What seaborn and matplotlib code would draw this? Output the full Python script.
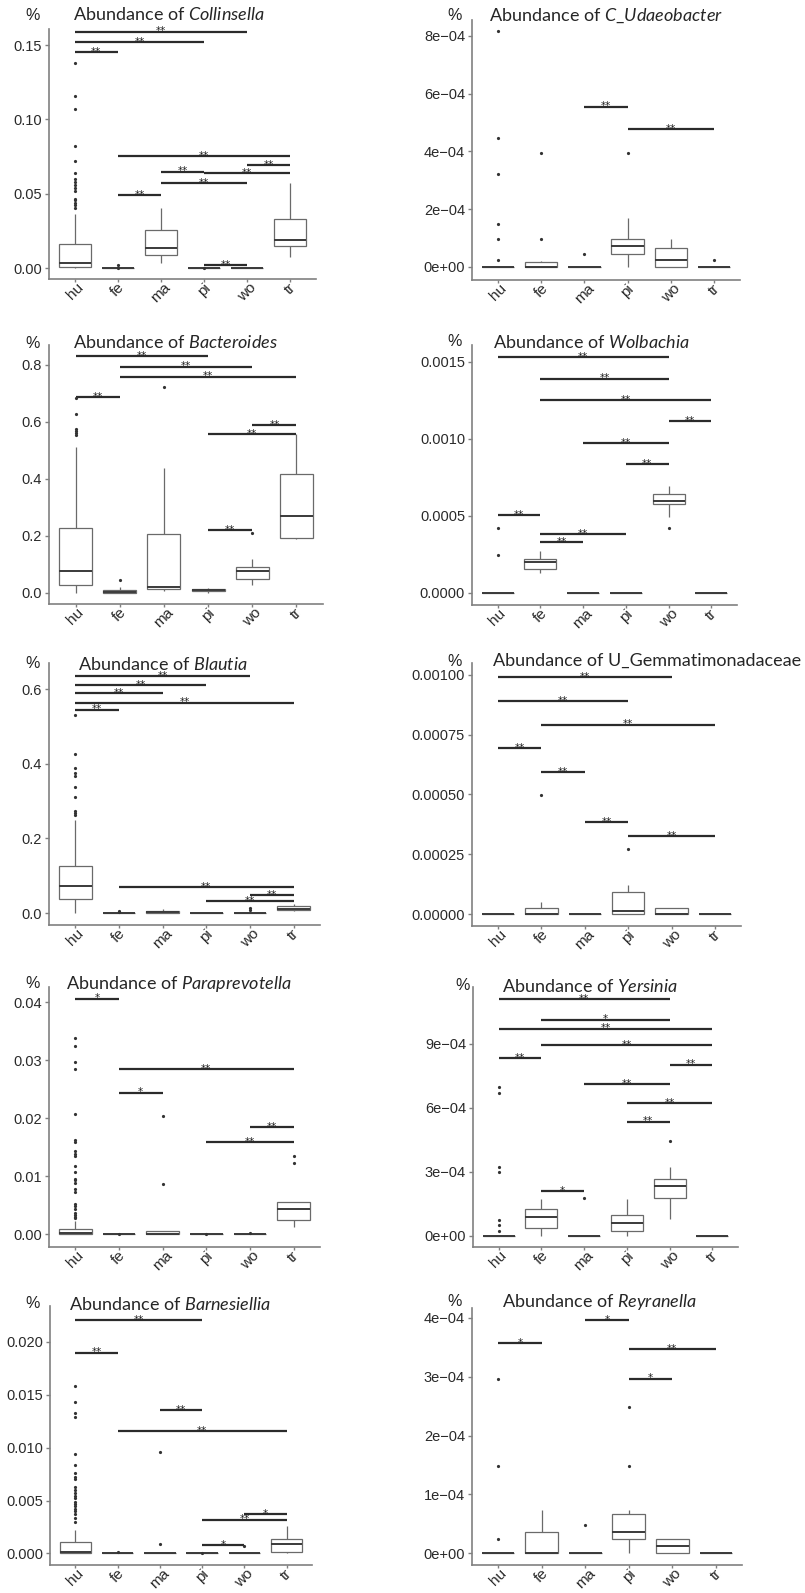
import numpy as np
import pandas as pd
import seaborn as sns
import matplotlib.pyplot as plt

sns.set_style("white")
plt.rcParams["font.family"] = ["Liberation Sans", "DejaVu Sans"]
plt.rcParams["mathtext.fontset"] = "custom"
plt.rcParams["mathtext.rm"] = "Lato"
plt.rcParams["mathtext.it"] = "Lato:italic"

groups = ["hu", "fe", "ma", "pi", "wo", "tr"]

# box summaries: [low whisker, Q1, median, Q3, high whisker]
collinsella_box = [[0.0, 0.0004, 0.0034, 0.0159, 0.0366], [0, 0, 0, 0, 0],
                   [0.0036, 0.0090, 0.0132, 0.0254, 0.0406], [0, 0, 0, 0, 0],
                   [0, 0, 0, 0.0003, 0.0003], [0.0074, 0.0146, 0.0186, 0.0332, 0.0573]]
collinsella_out = [[0.138, 0.1157, 0.1073, 0.0822, 0.0721, 0.0636, 0.0602, 0.058, 0.0561,
                    0.0539, 0.0519, 0.0467, 0.0456, 0.0438, 0.0422, 0.0406],
                   [0.0018, 0.0], [], [0.0], [], []]
collinsella_sig = [("hu", "wo", 0.159, "**"), ("hu", "pi", 0.152, "**"), ("hu", "fe", 0.1453, "**"),
                   ("fe", "tr", 0.0752, "**"), ("wo", "tr", 0.0692, "**"), ("ma", "pi", 0.0649, "**"),
                   ("pi", "tr", 0.0636, "**"), ("ma", "wo", 0.0573, "**"), ("fe", "ma", 0.049, "**"),
                   ("pi", "wo", 0.0022, "**")]

udaeo_box = [[0, 0, 0, 0, 0], [0, 0, 0, 1.6e-5, 2.1e-5], [0, 0, 0, 0, 0],
             [0, 4.6e-5, 7.2e-5, 9.7e-5, 1.71e-4], [0, 0, 2.3e-5, 6.6e-5, 9.7e-5], [0, 0, 0, 0, 0]]
udaeo_out = [[8.18e-4, 4.45e-4, 3.21e-4, 1.48e-4, 9.8e-5, 2.3e-5], [3.95e-4, 9.8e-5], [4.6e-5],
             [3.95e-4], [], [2.3e-5]]
udaeo_sig = [("ma", "pi", 5.55e-4, "**"), ("pi", "tr", 4.76e-4, "**")]

bacteroides_box = [[0.0, 0.029, 0.076, 0.228, 0.511], [0, 0, 0.0035, 0.0094, 0.021],
                   [0.007, 0.0152, 0.021, 0.206, 0.439], [0, 0.006, 0.0094, 0.014, 0.0187],
                   [0.029, 0.0504, 0.077, 0.0914, 0.121], [0.189, 0.194, 0.269, 0.419, 0.557]]
bacteroides_out = [[0.683, 0.628, 0.574, 0.568, 0.560, 0.554], [0.0445], [0.724], [], [0.211], []]
bacteroides_sig = [("hu", "pi", 0.832, "**"), ("fe", "wo", 0.794, "**"), ("fe", "tr", 0.759, "**"),
                   ("hu", "fe", 0.686, "**"), ("wo", "tr", 0.589, "**"), ("pi", "tr", 0.557, "**"),
                   ("pi", "wo", 0.220, "**")]

wolbachia_box = [[0, 0, 0, 0, 0], [1.29e-4, 1.55e-4, 1.99e-4, 2.2e-4, 2.74e-4], [0, 0, 0, 0, 0],
                 [0, 0, 0, 0, 0], [4.96e-4, 5.76e-4, 5.98e-4, 6.41e-4, 6.95e-4], [0, 0, 0, 0, 0]]
wolbachia_out = [[4.21e-4, 2.48e-4], [], [], [], [4.21e-4], []]
wolbachia_sig = [("hu", "wo", 1.532e-3, "**"), ("fe", "wo", 1.392e-3, "**"), ("fe", "tr", 1.252e-3, "**"),
                 ("wo", "tr", 1.116e-3, "**"), ("ma", "wo", 9.75e-4, "**"), ("pi", "wo", 8.35e-4, "**"),
                 ("hu", "fe", 5.07e-4, "**"), ("fe", "pi", 3.84e-4, "**"), ("fe", "ma", 3.28e-4, "**")]

blautia_box = [[0.0, 0.0375, 0.0732, 0.127, 0.25], [0, 0, 0, 0.0005, 0.001],
               [0, 0, 0.002, 0.0054, 0.0098], [0, 0, 0, 0, 0], [0, 0, 0, 0, 0],
               [0.0045, 0.007, 0.0116, 0.018, 0.025]]
blautia_out = [[0.531, 0.427, 0.390, 0.375, 0.366, 0.339, 0.311, 0.274, 0.268, 0.262],
               [0.006, 0.003], [], [], [0.0134, 0.007], []]
blautia_sig = [("hu", "wo", 0.634, "**"), ("hu", "pi", 0.611, "**"), ("hu", "ma", 0.589, "**"),
               ("hu", "tr", 0.564, "**"), ("hu", "fe", 0.545, "**"), ("fe", "tr", 0.0696, "**"),
               ("wo", "tr", 0.0473, "**"), ("pi", "tr", 0.0313, "**")]

gemma_box = [[0, 0, 0, 0, 0], [0, 0, 0, 2.5e-5, 4.9e-5], [0, 0, 0, 0, 0],
             [0, 0, 1.3e-5, 9.1e-5, 1.21e-4], [0, 0, 0, 2.5e-5, 2.5e-5], [0, 0, 0, 0, 0]]
gemma_out = [[], [4.98e-4], [], [2.71e-4], [], []]
gemma_sig = [("hu", "wo", 9.90e-4, "**"), ("hu", "pi", 8.91e-4, "**"), ("fe", "tr", 7.92e-4, "**"),
             ("hu", "fe", 6.93e-4, "**"), ("fe", "ma", 5.94e-4, "**"), ("ma", "pi", 3.84e-4, "**"),
             ("pi", "tr", 3.26e-4, "**")]

parapre_box = [[0, 0, 0.0002, 0.00097, 0.00235], [0, 0, 0, 0, 0], [0, 0, 0.0001, 0.00063, 0.00063],
               [0, 0, 0, 0, 0], [0, 0, 0, 0, 0], [0.0013, 0.00246, 0.00436, 0.0055, 0.0055]]
parapre_out = [[0.0338, 0.0324, 0.0297, 0.0284, 0.0208, 0.0162, 0.0159, 0.0143, 0.0138, 0.0134,
                0.0117, 0.0108, 0.0096, 0.0093, 0.0089, 0.0078, 0.0072, 0.0052, 0.0048, 0.0043,
                0.0036, 0.0033, 0.0030, 0.0028],
               [0.0001], [0.0204, 0.0086], [0.0001], [0.0002], [0.0134, 0.0123]]
parapre_sig = [("hu", "fe", 0.0406, "*"), ("fe", "tr", 0.0285, "**"), ("fe", "ma", 0.0244, "*"),
               ("wo", "tr", 0.0185, "**"), ("pi", "tr", 0.0159, "**")]

yersinia_box = [[0, 0, 0, 0, 0], [0, 3.8e-5, 8.9e-5, 1.25e-4, 1.72e-4], [0, 0, 0, 0, 0],
                [0, 2.4e-5, 6.1e-5, 1.0e-4, 1.72e-4], [7.7e-5, 1.80e-4, 2.35e-4, 2.67e-4, 3.21e-4],
                [0, 0, 0, 0, 0]]
yersinia_out = [[6.96e-4, 6.70e-4, 3.25e-4, 2.98e-4, 7.4e-5, 5.0e-5, 2.2e-5], [], [1.76e-4], [],
                [4.45e-4], []]
yersinia_sig = [("hu", "wo", 1.112e-3, "**"), ("fe", "wo", 1.014e-3, "*"), ("hu", "tr", 9.72e-4, "**"),
                ("fe", "tr", 8.94e-4, "**"), ("hu", "fe", 8.34e-4, "**"), ("wo", "tr", 8.03e-4, "**"),
                ("ma", "wo", 7.13e-4, "**"), ("pi", "tr", 6.24e-4, "**"), ("pi", "wo", 5.36e-4, "**"),
                ("fe", "ma", 2.10e-4, "*")]

barnes_box = [[0, 0, 0.0001, 0.0011, 0.00225], [0, 0, 0, 0, 0], [0, 0, 0, 0, 0], [0, 0, 0, 0, 0],
              [0, 0, 0, 0, 0], [0, 0.000125, 0.00084, 0.00134, 0.0026]]
barnes_out = [[0.0158, 0.0143, 0.0133, 0.0129, 0.0094, 0.0084, 0.0076, 0.0072, 0.0070, 0.0063,
               0.0060, 0.0057, 0.0054, 0.0052, 0.0049, 0.0047, 0.0045, 0.0042, 0.0040, 0.0037,
               0.0033, 0.0030],
              [0.0001], [0.0096, 0.00084], [0.0], [0.0007], []]
barnes_sig = [("hu", "pi", 0.0221, "**"), ("hu", "fe", 0.019, "**"), ("ma", "pi", 0.01356, "**"),
              ("fe", "tr", 0.0116, "**"), ("wo", "tr", 0.00369, "*"), ("pi", "tr", 0.00319, "**"),
              ("pi", "wo", 0.00078, "*")]

reyra_box = [[0, 0, 0, 0, 0], [0, 0, 0, 3.64e-5, 7.4e-5], [0, 0, 0, 0, 0],
             [0, 2.35e-5, 3.64e-5, 6.72e-5, 7.28e-5], [0, 0, 1.23e-5, 2.35e-5, 2.35e-5], [0, 0, 0, 0, 0]]
reyra_out = [[2.97e-4, 1.48e-4, 2.35e-5], [], [4.87e-5], [2.48e-4, 1.48e-4], [], []]
reyra_sig = [("ma", "pi", 3.96e-4, "*"), ("hu", "fe", 3.57e-4, "*"), ("pi", "tr", 3.47e-4, "**"),
             ("pi", "wo", 2.97e-4, "*")]

titles = [r"Abundance of $\mathit{Collinsella}$", r"Abundance of $\mathit{C\_Udaeobacter}$",
          r"Abundance of $\mathit{Bacteroides}$", r"Abundance of $\mathit{Wolbachia}$",
          r"Abundance of $\mathit{Blautia}$", "Abundance of U_Gemmatimonadaceae",
          r"Abundance of $\mathit{Paraprevotella}$", r"Abundance of $\mathit{Yersinia}$",
          r"Abundance of $\mathit{Barnesiellia}$", r"Abundance of $\mathit{Reyranella}$"]

yticks = [([0, 0.05, 0.10, 0.15], ["0.00", "0.05", "0.10", "0.15"]),
          ([0, 2e-4, 4e-4, 6e-4, 8e-4], ["0e+00", "2e\u221204", "4e\u221204", "6e\u221204", "8e\u221204"]),
          ([0, 0.2, 0.4, 0.6, 0.8], ["0.0", "0.2", "0.4", "0.6", "0.8"]),
          ([0, 0.0005, 0.0010, 0.0015], ["0.0000", "0.0005", "0.0010", "0.0015"]),
          ([0, 0.2, 0.4, 0.6], ["0.0", "0.2", "0.4", "0.6"]),
          ([0, 0.00025, 0.0005, 0.00075, 0.001], ["0.00000", "0.00025", "0.00050", "0.00075", "0.00100"]),
          ([0, 0.01, 0.02, 0.03, 0.04], ["0.00", "0.01", "0.02", "0.03", "0.04"]),
          ([0, 3e-4, 6e-4, 9e-4], ["0e+00", "3e\u221204", "6e\u221204", "9e\u221204"]),
          ([0, 0.005, 0.010, 0.015, 0.020], ["0.000", "0.005", "0.010", "0.015", "0.020"]),
          ([0, 1e-4, 2e-4, 3e-4, 4e-4], ["0e+00", "1e\u221204", "2e\u221204", "3e\u221204", "4e\u221204"])]

ylims = [(-0.0074, 0.1608), (-4.5e-5, 8.55e-4), (-0.0386, 0.870), (-7.8e-5, 0.00161),
         (-0.032, 0.670), (-5.0e-5, 0.00105), (-0.0022, 0.0426), (-5.2e-5, 1.167e-3),
         (-0.0011, 0.0234), (-2.0e-5, 4.17e-4)]

boxes = [collinsella_box, udaeo_box, bacteroides_box, wolbachia_box, blautia_box,
         gemma_box, parapre_box, yersinia_box, barnes_box, reyra_box]
outs = [collinsella_out, udaeo_out, bacteroides_out, wolbachia_out, blautia_out,
        gemma_out, parapre_out, yersinia_out, barnes_out, reyra_out]
sigs = [collinsella_sig, udaeo_sig, bacteroides_sig, wolbachia_sig, blautia_sig,
        gemma_sig, parapre_sig, yersinia_sig, barnes_sig, reyra_sig]

# layout in pixels: axes (left, top, right, bottom), title start and "%" centre
W, H = 805, 1593
rects = [(49, 29, 316, 279), (472, 20, 740, 280), (49, 345, 323, 604), (472, 345, 737, 605),
         (49, 663, 320, 925), (472, 663, 741, 926), (49, 987, 320, 1247), (473, 987, 738, 1247),
         (50, 1306, 312, 1565), (472, 1308, 742, 1565)]
title_xy = [(73, 15), (489, 16), (73, 342), (493, 342), (78, 664), (493, 661),
            (66, 984), (502, 986), (69, 1304), (502, 1302)]
pct_xy = [(33, 15), (455, 16), (33, 343), (455, 342), (33, 664), (455, 661),
          (33, 984), (463, 986), (33, 1304), (455, 1302)]

fig = plt.figure(figsize=(W / 100, H / 100), dpi=100)

for k in range(10):
    l, t, r, b = rects[k]
    ax = fig.add_axes([l / W, 1 - b / H, (r - l) / W, (b - t) / H])

    df = pd.DataFrame([(g, v) for g, vals in zip(groups, boxes[k]) for v in vals],
                      columns=["group", "value"])
    sns.boxplot(data=df, x="group", y="value", order=groups, ax=ax, whis=(0, 100),
                width=0.75, color="white", linecolor="#6a6a6a", linewidth=0.9,
                showcaps=False, showfliers=False,
                medianprops=dict(color="#3a3a3a", linewidth=1.4))

    od = pd.DataFrame([(g, v) for g, vals in zip(groups, outs[k]) for v in vals],
                      columns=["group", "value"])
    if len(od):
        sns.stripplot(data=od, x="group", y="value", order=groups, ax=ax, jitter=False,
                      size=2.3, color="#333333", linewidth=0)

    for a, c, y, lab in sigs[k]:
        i, j = groups.index(a), groups.index(c)
        ax.plot([i, j], [y, y], color="#2b2b2b", lw=1.6, solid_capstyle="butt")
        ax.annotate(lab, ((i + j) / 2, y), xytext=(0, -2), textcoords="offset points",
                    ha="center", va="baseline", fontsize=7.5, color="#222222",
                    family="DejaVu Sans")

    ax.set_xlim(-0.6, 5.6)
    ax.set_ylim(*ylims[k])
    ax.set_yticks(yticks[k][0])
    ax.set_yticklabels(yticks[k][1], fontsize=10.5, color="#2a2a2a")
    ax.set_xticks(range(6))
    ax.set_xticklabels(groups, rotation=45, ha="center", fontsize=11, color="#2a2a2a")
    ax.set_xlabel("")
    ax.set_ylabel("")
    sns.despine(ax=ax)
    for s in ["left", "bottom"]:
        ax.spines[s].set_color("#808080")
        ax.spines[s].set_linewidth(1.2)
    ax.tick_params(axis="y", color="#808080", length=3, width=1, left=True, pad=2)
    ax.tick_params(axis="x", color="#808080", length=2.5, width=1, bottom=True, pad=-1.5)

    tx, ty = title_xy[k]
    fig.text(tx / W, 1 - ty / H, titles[k], ha="left", va="center", fontsize=13, family="Lato")
    px, py = pct_xy[k]
    fig.text(px / W, 1 - py / H, "%", ha="center", va="center", fontsize=11.5, color="#222222")

fig.savefig("out.png", dpi=100, facecolor="white")
